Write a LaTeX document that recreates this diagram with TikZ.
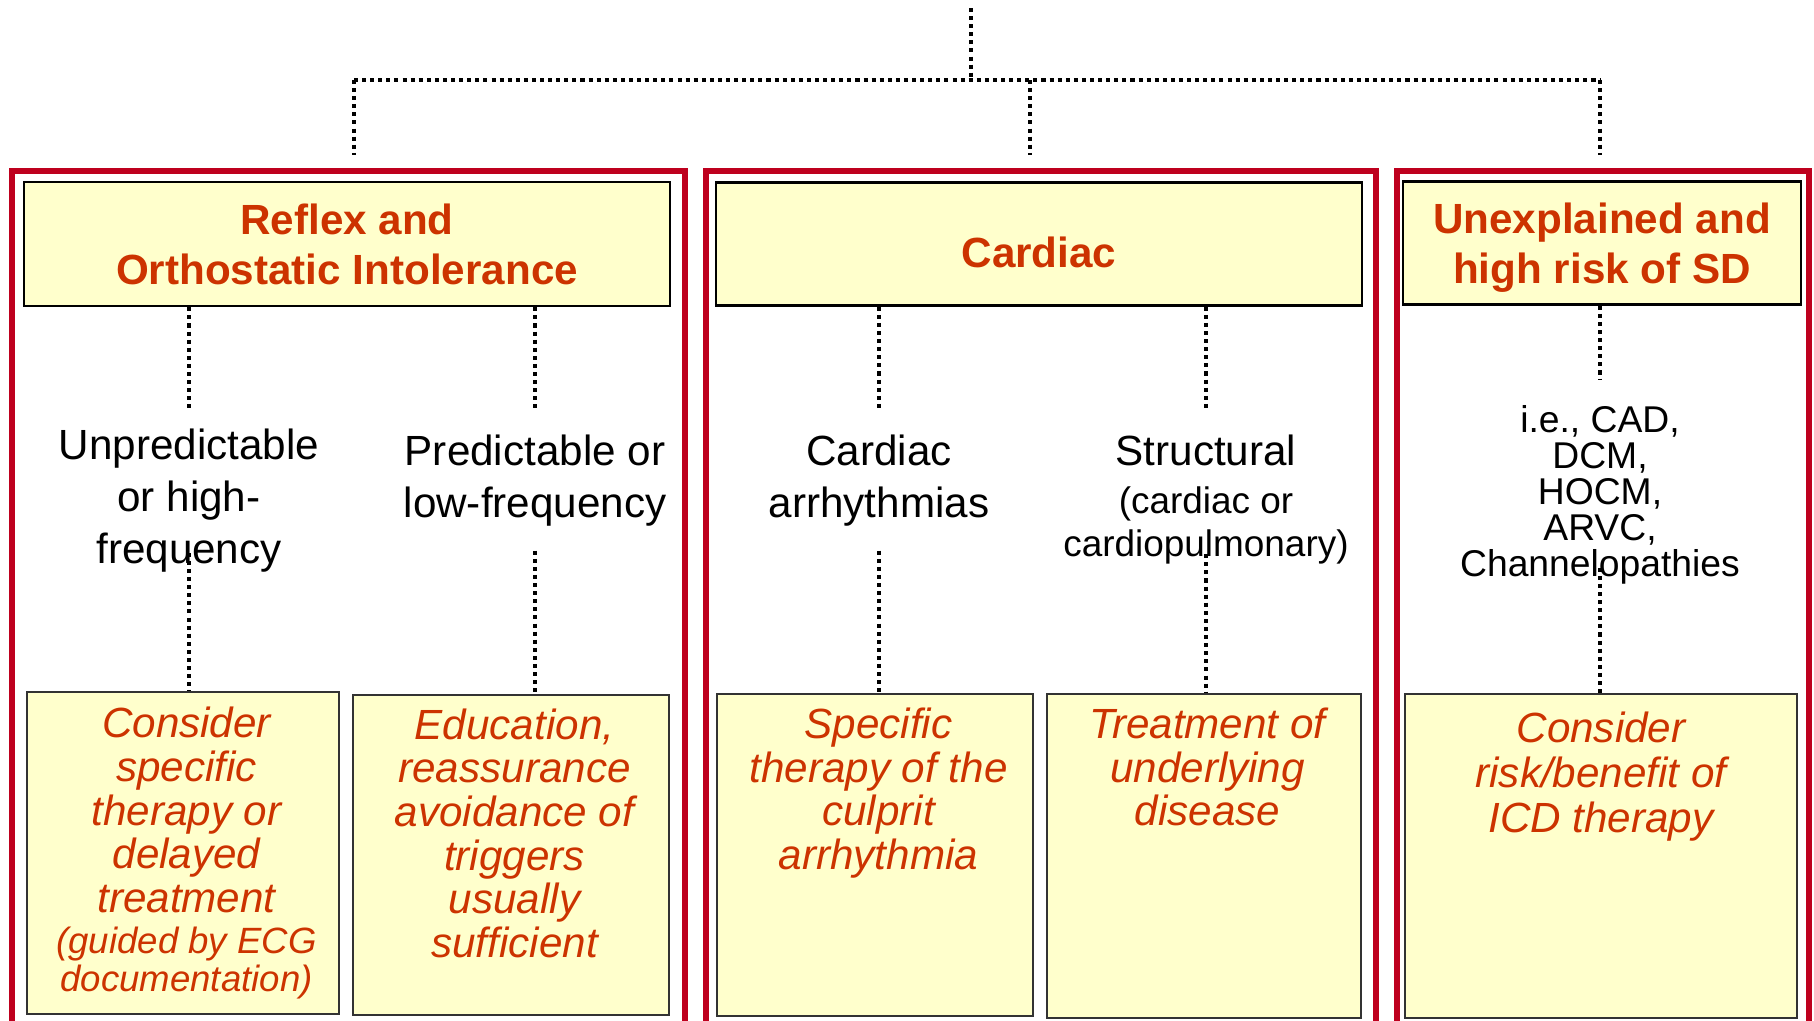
\documentclass[tikz,border=0pt]{standalone}
\usepackage{fontspec}
\setmainfont{Liberation Sans}
\usetikzlibrary{positioning}

\definecolor{hdrred}{RGB}{204,51,0}
\definecolor{framered}{RGB}{190,0,30}
\definecolor{paleyellow}{RGB}{255,255,204}

\tikzset{
    frame/.style={framered, line width=1.5pt},
    hdrbox/.style={draw=black, line width=0.7pt, fill=paleyellow, inner sep=0pt},
    hdrtext/.style={align=center, inner sep=0pt, text=hdrred,
        font=\fontsize{12}{14.2}\selectfont\bfseries},
    lowbox/.style={draw=black!80, line width=0.6pt, fill=paleyellow, inner sep=0pt},
    lowtext/.style={align=center, inner sep=0pt, text=hdrred,
        font=\fontsize{12}{12.4}\selectfont\itshape},
    midtext/.style={align=center, inner sep=0pt, font=\fontsize{12}{14.8}\selectfont},
    link/.style={line width=1.05pt, dash pattern=on 1.15pt off 1.15pt},
}

\begin{document}
\begin{tikzpicture}[x=0.01cm, y=-0.01cm]
    \useasboundingbox (0,0) rectangle (1814,1020);

    % tree on top
    \coordinate (root) at (971,8);
    \coordinate (bar)  at (971,80);
    \coordinate (barA) at (354,80);
    \coordinate (barB) at (1030,80);
    \coordinate (barC) at (1600,80);
    \coordinate (dropA) at (354,155);
    \coordinate (dropB) at (1030,155);
    \coordinate (dropC) at (1600,155);

    \draw[link] (root) -- (bar);
    \draw[link] (barA) -- (barC);
    \draw[link] (barA) -- (dropA);
    \draw[link] (barB) -- (dropB);
    \draw[link] (barC) -- (dropC);

    % red frames, open at the bottom
    \draw[frame] (12,1030)   -- (12,171)   -- (685,171)  -- (685,1030);
    \draw[frame] (706,1030)  -- (706,171)  -- (1376,171) -- (1376,1030);
    \draw[frame] (1397,1030) -- (1397,171) -- (1809,171) -- (1809,1030);

    % headers
    \node[hdrbox, minimum width=6.46cm, minimum height=1.24cm] (hdrA) at (347,244) {};
    \node[hdrbox, minimum width=6.46cm, minimum height=1.23cm] (hdrB) at (1039,244) {};
    \node[hdrbox, minimum width=3.98cm, minimum height=1.23cm] (hdrC) at (1602,243) {};
    \node[hdrtext] (ttlA) at (hdrA.center) {Reflex and\\Orthostatic Intolerance};
    \node[hdrtext] (ttlB) at ([yshift=-2.4pt]hdrB.center) {Cardiac};
    \node[hdrtext] (ttlC) at ([yshift=-1.3pt]hdrC.center) {Unexplained and\\high risk of SD};

    % middle texts
    \node[midtext, anchor=north] (midA) at (189,428) {Unpredictable\\or high-\\frequency};
    \node[midtext, anchor=north] (midB) at (535,434) {Predictable or\\low-frequency};
    \node[midtext, anchor=north] (midC) at (879,434) {Cardiac\\arrhythmias};
    \node[midtext, anchor=north] (midD) at (1206,434)
        {Structural\\[-1.1pt]\fontsize{10.5}{12.2}\selectfont (cardiac or\\[-2.6pt]\fontsize{10.5}{12.2}\selectfont cardiopulmonary)};
    \node[midtext, anchor=north, font=\fontsize{10.6}{10.2}\selectfont] (midE) at (1600,405)
        {i.e., CAD,\\DCM,\\HOCM,\\ARVC,\\Channelopathies};

    % bottom boxes
    \node[lowbox, minimum width=3.12cm, minimum height=3.22cm] (low1) at (183,853) {};
    \node[lowbox, minimum width=3.15cm, minimum height=3.20cm] (low2) at (511,855) {};
    \node[lowbox, minimum width=3.15cm, minimum height=3.21cm] (low3) at (875,855) {};
    \node[lowbox, minimum width=3.14cm, minimum height=3.23cm] (low4) at (1204,856) {};
    \node[lowbox, minimum width=3.91cm, minimum height=3.23cm] (low5) at (1601,856) {};

    \node[lowtext, anchor=north] (txt1) at ([xshift=1pt, yshift=-4.5pt]low1.north)
        {Consider\\specific\\therapy or\\delayed\\treatment\\[-0.7pt]\fontsize{10.4}{10.8}\selectfont (guided by ECG\\[-1.6pt]\fontsize{10.4}{10.8}\selectfont documentation)};
    \node[lowtext, anchor=north] (txt2) at ([xshift=1pt, yshift=-4pt]low2.north)
        {Education,\\reassurance\\avoidance of\\triggers\\usually\\sufficient};
    \node[lowtext, anchor=north] (txt3) at ([xshift=1pt, yshift=-4pt]low3.north)
        {Specific\\therapy of the\\culprit\\arrhythmia};
    \node[lowtext, anchor=north] (txt4) at ([xshift=1pt, yshift=-4pt]low4.north)
        {Treatment of\\underlying\\disease};
    \node[lowtext, anchor=north, font=\fontsize{12}{12.8}\selectfont\itshape] (txt5)
        at ([yshift=-5pt]low5.north) {Consider\\risk/benefit of\\ICD therapy};

    % links inside the frames
    \draw[link, shorten >=5pt]   (hdrA.south -| midA) -- (midA.north);
    \draw[link, shorten >=6.7pt] (hdrA.south -| midB) -- (midB.north);
    \draw[link, shorten >=6.7pt] (hdrB.south -| midC) -- (midC.north);
    \draw[link, shorten >=6.7pt] (hdrB.south -| midD) -- (midD.north);
    \draw[link, shorten >=7.5pt] (hdrC.south -| midE) -- (midE.north);

    \draw[link, shorten <=-5.7pt] (midA.south) -- (midA.south |- low1.north);
    \draw[link, shorten <=6.8pt]  (midB.south) -- (midB.south |- low2.north);
    \draw[link, shorten <=6.8pt]  (midC.south) -- (midC.south |- low3.north);
    \draw[link, shorten <=-3pt]   (midD.south) -- (midD.south |- low4.north);
    \draw[link, shorten <=-4.8pt] (midE.south) -- (midE.south |- low5.north);
\end{tikzpicture}
\end{document}
